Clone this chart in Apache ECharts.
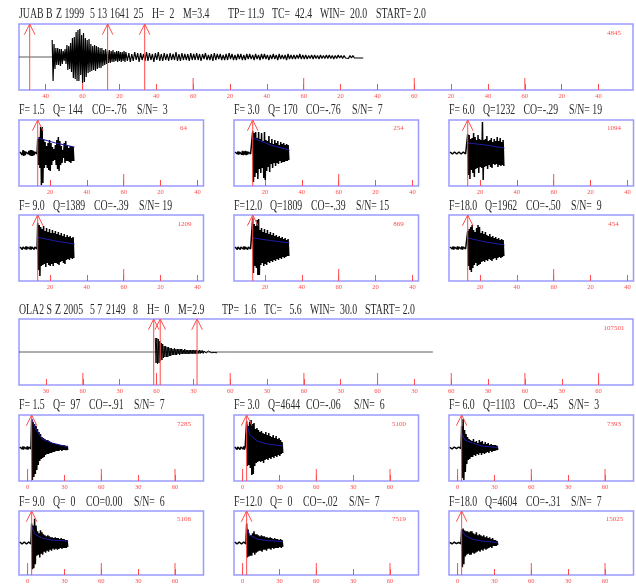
<!DOCTYPE html>
<html>
<head>
<meta charset="utf-8">
<style>
  html, body { margin: 0; background: #fff; }
  #chart { width: 636px; height: 585px; filter: blur(0.55px); }
</style>
<script src="https://cdn.jsdelivr.net/npm/echarts@6/dist/echarts.min.js"></script>
</head>
<body>
<div id="chart"></div>
<script>
// axis ticks, seconds
const juabTopTicks = [40, 60, 80, 100, 120, 140, 160, 180, 200, 220, 240, 260, 280, 300, 320, 340];
const juabTopMajor = [60, 120, 180, 240, 300];
const juabTopLabels = ['40', '60', '20', '40', '60', '20', '40', '60', '20', '40', '60', '20', '40', '60', '20', '40'];
const juabTicks = [20, 40, 60, 80, 100];
const juabMajor = [60];
const juabLabels = ['20', '40', '60', '20', '40'];
const olaTopTicks = [30, 60, 90, 120, 150, 180, 210, 240, 270, 300, 330, 360, 390, 420, 450, 480];
const olaTopMajor = [60, 120, 180, 240, 300, 360, 420, 480];
const olaTopLabels = ['30', '60', '30', '60', '30', '60', '30', '60', '30', '60', '30', '60', '30', '60', '30', '60'];
const olaTicks = [0, 30, 60, 90, 120];
const olaMajor = [0, 60, 120];
const olaLabels = ['0', '30', '60', '30', '60'];

// pick times
const juabTopPicks = [31.3, 73.6, 93.7];
const juabPicks = [13.35];
const olaTopPicks = [117.7, 123, 153];
const olaPicks = [3.3];

// JUAB full trace
const juabBurstUp = [17, 13, 9, 9, 8, 8, 6, 8, 12, 11, 14, 19, 20, 25, 27, 28, 22, 24, 19, 17, 18, 13, 11, 12, 11, 10, 9, 9, 7, 8, 6, 7, 6, 7, 5, 6, 6, 5, 5, 6];
const juabBurstLo = [24, 12, 8, 8, 9, 7, 4, 7, 13, 12, 15, 21, 22, 24, 24, 18, 26, 25, 20, 16, 15, 14, 13, 14, 12, 11, 11, 9, 8, 7, 6, 6, 5, 5, 4, 5, 4, 5, 4, 5];
const juabCodaUp = [5, 4, 3, 5, 4, 4, 3, 5, 4, 3, 4, 5, 3, 4, 3, 4, 3, 5, 3, 4, 3, 3, 4, 3, 4, 3, 3, 4, 2, 3, 4, 3, 3, 2, 3, 4, 3, 2, 3, 3, 2, 3, 3, 2, 3, 2, 3, 3, 2, 2, 3, 2, 3, 2, 2, 3, 2, 2, 2, 3, 2, 2, 1.5, 2, 2, 1.5, 2, 1.5, 2, 2, 1.5, 1.5, 2, 1.5, 1.5, 1, 1.5, 1.5, 1, 1, 1];
const juabCodaLo = [4, 5, 4, 3, 5, 3, 4, 4, 3, 5, 3, 4, 4, 3, 4, 3, 3, 4, 4, 3, 3, 4, 3, 3, 3, 4, 2, 3, 3, 4, 3, 2, 3, 3, 3, 2, 3, 3, 2, 3, 3, 2, 2, 3, 2, 3, 2, 2, 3, 2, 2, 3, 2, 2, 3, 2, 2, 2, 1.5, 2, 2, 2, 1.5, 2, 1.5, 2, 1.5, 1.5, 1.5, 1.5, 2, 1.5, 1, 1.5, 1, 1.5, 1, 1, 1, 1, 1];

// JUAB filtered traces
const juabF15Pre = [1, 2, 3, 2, 1, 1, 2, 3, 3, 2, 1, 1];
const juabF15Up = [14, 16, 26, 26, 14, 11, 7, 10, 13, 10, 6, 4, 8, 13, 16, 12, 7, 3, 10, 12, 8, 5, 7, 7, 6];
const juabF15Lo = [12, 15, 32, 30, 15, 12, 15, 17, 18, 12, 8, 7, 12, 16, 18, 12, 10, 5, 10, 8, 8, 9, 10, 8, 8];
const juabF30Pre = [1, 1, 1.5, 1, 1.5, 2, 1.5, 2, 1.5, 1, 1, 1];
const juabF30Up = [22, 20, 21, 15, 21, 14, 20, 12, 21, 13, 12, 17, 10, 14, 9, 13, 10, 12, 8, 11, 9, 10, 8, 9, 8];
const juabF30Lo = [29, 24, 20, 26, 16, 20, 15, 25, 27, 18, 14, 19, 11, 15, 10, 13, 10, 11, 8, 10, 9, 9, 8, 8, 7];
const juabF60Pre = [1, 1, 1, 1, 1, 1, 1, 1, 1, 1, 1, 1];
const juabF60Up = [19, 18, 14, 15, 20, 16, 13, 18, 14, 13, 31, 13, 14, 17, 12, 13, 15, 11, 14, 12, 16, 12, 15, 11, 13];
const juabF60Lo = [22, 26, 17, 20, 24, 16, 15, 20, 14, 15, 27, 14, 13, 16, 12, 14, 15, 11, 12, 11, 14, 12, 13, 12, 13];
const juabF90Pre = [1, 1.5, 1, 1, 1.5, 1, 1, 1.5, 1, 1.5, 1, 1];
const juabF90Up = [25, 23, 21, 19, 22, 17, 20, 16, 19, 15, 18, 15, 17, 14, 16, 13, 15, 12, 14, 11, 13, 11, 12, 10, 11];
const juabF90Lo = [22, 28, 18, 17, 16, 19, 15, 17, 18, 16, 18, 15, 15, 16, 17, 14, 13, 15, 16, 12, 11, 12, 10, 11, 10];
const juabF120Pre = [1, 1.5, 1, 1.5, 1, 1, 1.5, 1, 1.5, 1, 1, 1];
const juabF120Up = [30, 24, 22, 28, 29, 18, 20, 16, 19, 15, 18, 14, 16, 13, 15, 12, 13, 11, 12, 10, 11, 9, 10, 8, 9];
const juabF120Lo = [25, 18, 20, 27, 27, 17, 15, 18, 16, 17, 14, 15, 13, 14, 12, 13, 11, 12, 10, 11, 9, 10, 9, 8, 8];
const juabF180Pre = [1, 1, 1.5, 1, 1, 1.5, 1, 1, 1.5, 1, 1, 1];
const juabF180Up = [17, 19, 21, 23, 18, 16, 20, 23, 21, 15, 17, 14, 16, 13, 12, 14, 11, 12, 10, 11, 9, 10, 8, 9, 8];
const juabF180Lo = [18, 22, 24, 20, 17, 15, 18, 17, 16, 14, 13, 14, 12, 13, 11, 12, 13, 11, 10, 12, 10, 9, 10, 9, 8];

// OLA2 full trace
const olaBase = [[8, 0], [170, 0], [170.4, 0.8], [170.8, -0.8], [171.2, 0], [181, 0], [181.4, 0.6], [181.8, -0.6], [182.2, 0], [240.8, 0], [241.2, 1], [241.6, -1], [242, 0], [345, 0]];
const olaEventUp = [14, 14, 13, 11, 9, 8, 6, 6, 5, 5, 4, 4, 3, 4, 3, 3, 3, 3, 3, 2, 3, 2, 2, 2, 2, 2, 2, 2, 2, 1.5, 2, 1.5, 1.5, 1, 1.5, 1, 1];
const olaEventLo = [11, 12, 11, 9, 8, 6, 5, 5, 5, 4, 4, 3, 3, 3, 3, 2, 3, 2, 2, 2, 2, 2, 2, 2, 1.5, 2, 1.5, 2, 1.5, 1.5, 1.5, 1, 1.5, 1, 1, 1, 1];
const olaCoda = [0.7, 0.5, 0.8];

// OLA2 filtered traces
const olaF15Pre = [1, 1, 1.5, 1, 1, 1.5, 1, 1];
const olaF15Up = [29, 26, 24, 22, 19, 16, 14, 11, 10, 9, 8, 8, 7, 6, 5, 5, 4, 4, 4, 3, 3, 3, 3, 2, 2];
const olaF15Lo = [32, 29, 26, 22, 17, 13, 11, 10, 9, 7, 6, 6, 5, 5, 4, 4, 3, 3, 3, 2, 3, 2, 2, 2, 2];
const olaF30Pre = [1, 1.5, 1, 1.5, 1, 1, 1.5, 1];
const olaF30Up = [27, 22, 26, 28, 24, 25, 19, 20, 18, 16, 17, 15, 14, 16, 13, 15, 12, 11, 13, 10, 12, 9, 10, 8, 6];
const olaF30Lo = [18, 17, 20, 27, 26, 18, 15, 14, 13, 14, 13, 15, 12, 11, 12, 10, 11, 9, 10, 8, 9, 7, 8, 6, 5];
const olaF60Pre = [0.7, 1, 1, 1, 0.7, 1, 1, 0.7];
const olaF60Up = [22, 29, 18, 14, 11, 9, 8, 7, 9, 6, 7, 5, 8, 6, 7, 4, 6, 4, 5, 3, 4, 3, 3, 3, 2];
const olaF60Lo = [30, 32, 24, 16, 12, 11, 9, 9, 7, 8, 6, 7, 5, 7, 5, 6, 5, 4, 5, 3, 4, 3, 3, 2, 2];
const olaF90Pre = [1, 1, 1, 1, 1, 1, 1, 1];
const olaF90Up = [20, 18, 25, 18, 12, 10, 13, 11, 9, 8, 7, 8, 7, 6, 6, 5, 6, 5, 5, 4, 5, 4, 4, 3, 3];
const olaF90Lo = [27, 26, 22, 13, 12, 15, 11, 12, 9, 10, 8, 9, 7, 8, 6, 7, 6, 7, 6, 5, 6, 5, 5, 5, 4];
const olaF120Pre = [1, 1, 1, 1, 1, 1, 1, 1];
const olaF120Up = [20, 14, 8, 8, 10, 12, 9, 9, 8, 7, 8, 7, 7, 6, 6, 5, 6, 5, 4, 5, 4, 4, 3, 4, 3];
const olaF120Lo = [15, 14, 13, 13, 10, 12, 10, 9, 8, 8, 9, 7, 7, 8, 6, 6, 7, 5, 6, 5, 5, 5, 4, 5, 4];
const olaF180Pre = [0.7, 1, 0.7, 1, 0.7, 1, 0.7, 1];
const olaF180Up = [14, 15, 13, 12, 12, 11, 12, 12, 10, 9, 11, 8, 9, 8, 7, 8, 6, 7, 5, 6, 4, 5, 3, 3, 2];
const olaF180Lo = [25, 22, 14, 12, 11, 12, 12, 10, 11, 10, 9, 8, 9, 7, 8, 6, 7, 6, 5, 4, 5, 3, 3, 3, 2];

// blue decay curves
const juabBlueT = [13.5, 23, 33.3];
const juabF15Blue = [15, 10, 6];
const juabF30Blue = [15, 8, 3];
const juabF60Blue = [10, 8, 5];
const juabF90Blue = [10.7, 7, 4];
const juabF120Blue = [10, 7.5, 5];
const juabF180Blue = [10, 6, 3];
const olaBlueT = [3.5, 6, 12, 20, 33];
const olaF15Blue = [29, 20, 9, 5, 1];
const olaF30Blue = [24, 13, 7, 4, 2];
const olaF60Blue = [14, 8, 5, 2, 0.5];
const olaF90Blue = [17, 9, 5, 3, 2];
const olaF120Blue = [15, 8, 4, 2.5, 1.5];
const olaF180Blue = [13, 8, 4, 2, 0.5];

// peak counts printed in each box
const juabCounts = ['4845', '64', '254', '1094', '1209', '869', '454'];
const olaCounts = ['107501', '7285', '5100', '7393', '5106', '7519', '15025'];

const RED = '#ff4d4d';
const BOX = '#9a9aff';
const INK = '#2a2a2a';

// box positions
const COLS = [19, 234, 449];
const SMALL_W = 184.5;
const BOX_H = 66;

function seg(t0, dt, up, lo) {
  return { t0, dt, up, lo };
}

const panels = [
  { x: 19, y: 24, w: 614, min: 25.5, max: 358.7, ticks: juabTopTicks, major: juabTopMajor, labels: juabTopLabels, picks: juabTopPicks, lw: 1.2,
    base: [[25.5, 0], [43.5, 0]], segs: [seg(43.5, 1, juabBurstUp, juabBurstLo), seg(83.5, 1.6, juabCodaUp, juabCodaLo)], count: juabCounts[0], countX: 614, countY: 33 },
  juabPanel(0, 120, juabF15Pre, juabF15Up, juabF15Lo, juabF15Blue, juabCounts[1], 183.5, 128),
  juabPanel(1, 120, juabF30Pre, juabF30Up, juabF30Lo, juabF30Blue, juabCounts[2], 398.5, 128),
  juabPanel(2, 120, juabF60Pre, juabF60Up, juabF60Lo, juabF60Blue, juabCounts[3], 614, 128),
  juabPanel(0, 215, juabF90Pre, juabF90Up, juabF90Lo, juabF90Blue, juabCounts[4], 184.5, 224),
  juabPanel(1, 215, juabF120Pre, juabF120Up, juabF120Lo, juabF120Blue, juabCounts[5], 398.5, 224),
  juabPanel(2, 215, juabF180Pre, juabF180Up, juabF180Lo, juabF180Blue, juabCounts[6], 613.5, 224),
  { x: 19, y: 319, w: 614, min: 8, max: 508, ticks: olaTopTicks, major: olaTopMajor, labels: olaTopLabels, picks: olaTopPicks, lw: 1,
    base: olaBase, segs: [seg(119, 1.2, olaEventUp, olaEventLo), seg(163.4, 2.4, olaCoda, olaCoda)], count: olaCounts[0], countX: 614, countY: 328 },
  olaPanel(0, 415, olaF15Pre, olaF15Up, olaF15Lo, olaF15Blue, olaCounts[1], 184, 424),
  olaPanel(1, 415, olaF30Pre, olaF30Up, olaF30Lo, olaF30Blue, olaCounts[2], 399, 424),
  olaPanel(2, 415, olaF60Pre, olaF60Up, olaF60Lo, olaF60Blue, olaCounts[3], 614, 424),
  olaPanel(0, 511, olaF90Pre, olaF90Up, olaF90Lo, olaF90Blue, olaCounts[4], 184, 519),
  olaPanel(1, 511, olaF120Pre, olaF120Up, olaF120Lo, olaF120Blue, olaCounts[5], 399, 519),
  olaPanel(2, 511, olaF180Pre, olaF180Up, olaF180Lo, olaF180Blue, olaCounts[6], 614.5, 519)
];

function juabPanel(col, y, pre, up, lo, blue, count, countX, countY) {
  return { x: COLS[col], y, w: SMALL_W, min: 3.2, max: 103.3, ticks: juabTicks, major: juabMajor, labels: juabLabels, picks: juabPicks, lw: 1.5,
    segs: [seg(3.8, 0.8, pre, pre), seg(13.35, 0.8, up, lo)], blueT: juabBlueT, blue, count, countX, countY };
}

function olaPanel(col, y, pre, up, lo, blue, count, countX, countY) {
  return { x: COLS[col], y, w: SMALL_W, min: -7, max: 143.2, ticks: olaTicks, major: olaMajor, labels: olaLabels, picks: olaPicks, lw: 1.5,
    segs: [seg(-6.3, 1.2, pre, pre), seg(3.3, 1.2, up, lo)], blueT: olaBlueT, blue, count, countX, countY };
}

// heading pieces: [text, x]
const headings = [
  [14, [['JUAB B', 19], ['Z 1999', 56], ['5 13', 90], ['1641', 110], ['25', 133.5], ['H=  2', 152], ['M=3.4', 183], ['TP= 11.9', 228], ['TC=  42.4', 272], ['WIN=  20.0', 320], ['START= 2.0', 376]]],
  [110, [['F= 1.5', 19], ['Q= 144', 53], ['CO=-.76', 92], ['S/N=  3', 137], ['F= 3.0', 234], ['Q= 170', 268], ['CO=-.76', 306], ['S/N=  7', 352], ['F= 6.0', 449], ['Q=1232', 483], ['CO=-.29', 523.5], ['S/N= 19', 569]]],
  [206, [['F= 9.0', 19], ['Q=1389', 53], ['CO=-.39', 94], ['S/N= 19', 139], ['F=12.0', 234], ['Q=1809', 270], ['CO=-.39', 311], ['S/N= 15', 356], ['F=18.0', 449], ['Q=1962', 485], ['CO=-.50', 526], ['S/N=  9', 571]]],
  [310, [['OLA2 S', 19], ['Z 2005', 55], ['5 7', 90], ['2149', 106], ['8', 133], ['H=  0', 147], ['M=2.9', 178], ['TP=  1.6', 222], ['TC=   5.6', 264], ['WIN=  30.0', 310], ['START= 2.0', 365]]],
  [405, [['F= 1.5', 19], ['Q=  97', 53], ['CO=-.91', 89], ['S/N=  7', 134], ['F= 3.0', 234], ['Q=4644', 268], ['CO=-.06', 306], ['S/N=  6', 354], ['F= 6.0', 449], ['Q=1103', 483], ['CO=-.45', 523.5], ['S/N=  3', 568.5]]],
  [502, [['F= 9.0', 19], ['Q=  0', 53], ['CO=0.00', 86], ['S/N=  6', 134], ['F=12.0', 234], ['Q=  0', 270], ['CO=-.02', 303], ['S/N=  7', 349], ['F=18.0', 449], ['Q=4604', 485], ['CO=-.31', 526], ['S/N=  7', 571]]]
];

function zigzag(segs) {
  const pts = [];
  segs.forEach(s => {
    s.up.forEach((u, i) => {
      const t = s.t0 + i * s.dt;
      pts.push([t, u]);
      pts.push([t + s.dt / 2, -s.lo[i]]);
    });
  });
  return pts;
}

function renderPick(params, api) {
  const top = api.coord([api.value(0), 33]);
  const bottom = api.coord([api.value(0), -33]);
  const style = { stroke: RED, fill: null, lineWidth: 1 };
  return {
    type: 'group',
    children: [
      { type: 'polyline', shape: { points: [top, bottom] }, style },
      { type: 'polyline', shape: { points: [[top[0] - 5.3, top[1] + 10.7], top, [top[0] + 5.3, top[1] + 10.7]] }, style }
    ]
  };
}

// tall ticks on the minute
function renderMajor(params, api) {
  const bottom = api.coord([api.value(0), -33]);
  return {
    type: 'line',
    shape: { x1: bottom[0], y1: bottom[1], x2: bottom[0], y2: bottom[1] - 12 },
    style: { stroke: RED, lineWidth: 1 }
  };
}

const grid = [];
const xAxis = [];
const yAxis = [];
const series = [];
const graphic = [];

panels.forEach((p, i) => {
  grid.push({ left: p.x, top: p.y, width: p.w, height: BOX_H, show: true, borderColor: BOX, borderWidth: 1.5, backgroundColor: 'transparent' });
  yAxis.push({ gridIndex: i, type: 'value', min: -33, max: 33, show: false });

  xAxis.push({
    gridIndex: i, type: 'value', min: p.min, max: p.max, position: 'bottom',
    axisLine: { show: false, onZero: false }, splitLine: { show: false },
    axisTick: { show: true, inside: true, length: 6, lineStyle: { color: RED, width: 1 }, customValues: p.ticks },
    axisLabel: {
      show: true, color: RED, fontFamily: 'Liberation Serif', fontSize: 6.5, margin: 3,
      customValues: p.ticks,
      formatter: v => p.labels[p.ticks.indexOf(v)]
    }
  });

  const axes = { xAxisIndex: i, yAxisIndex: i };
  if (p.base) {
    series.push({ type: 'line', ...axes, data: p.base, showSymbol: false, silent: true, lineStyle: { color: '#333', width: 0.8 } });
  }
  series.push({ type: 'line', ...axes, data: zigzag(p.segs), showSymbol: false, silent: true, lineStyle: { color: '#000', width: p.lw } });
  if (p.blue) {
    series.push({ type: 'line', ...axes, data: p.blueT.map((t, k) => [t, p.blue[k]]), showSymbol: false, silent: true, z: 4, lineStyle: { color: '#1c1ca8', width: 1 } });
  }
  series.push({ type: 'custom', ...axes, data: p.major.map(t => [t, 0]), renderItem: renderMajor, silent: true, z: 3, clip: false });
  series.push({ type: 'custom', ...axes, data: p.picks.map(t => [t, 0]), renderItem: renderPick, silent: true, z: 5, clip: false });

  graphic.push({
    type: 'text', x: p.countX, y: p.countY, silent: true,
    style: { text: p.count, fill: RED, font: '7px "Liberation Serif"', textAlign: 'center', textVerticalAlign: 'middle' }
  });
});

headings.forEach(h => {
  h[1].forEach(piece => {
    graphic.push({
      type: 'text', x: piece[1], y: h[0], scaleX: 0.7, silent: true,
      style: { text: piece[0], fill: INK, font: '14px "Liberation Serif"', textAlign: 'left', textVerticalAlign: 'middle' }
    });
  });
});

const chart = echarts.init(document.getElementById('chart'));
chart.setOption({
  animation: false,
  backgroundColor: '#fff',
  grid, xAxis, yAxis, series, graphic
});
</script>
</body>
</html>
